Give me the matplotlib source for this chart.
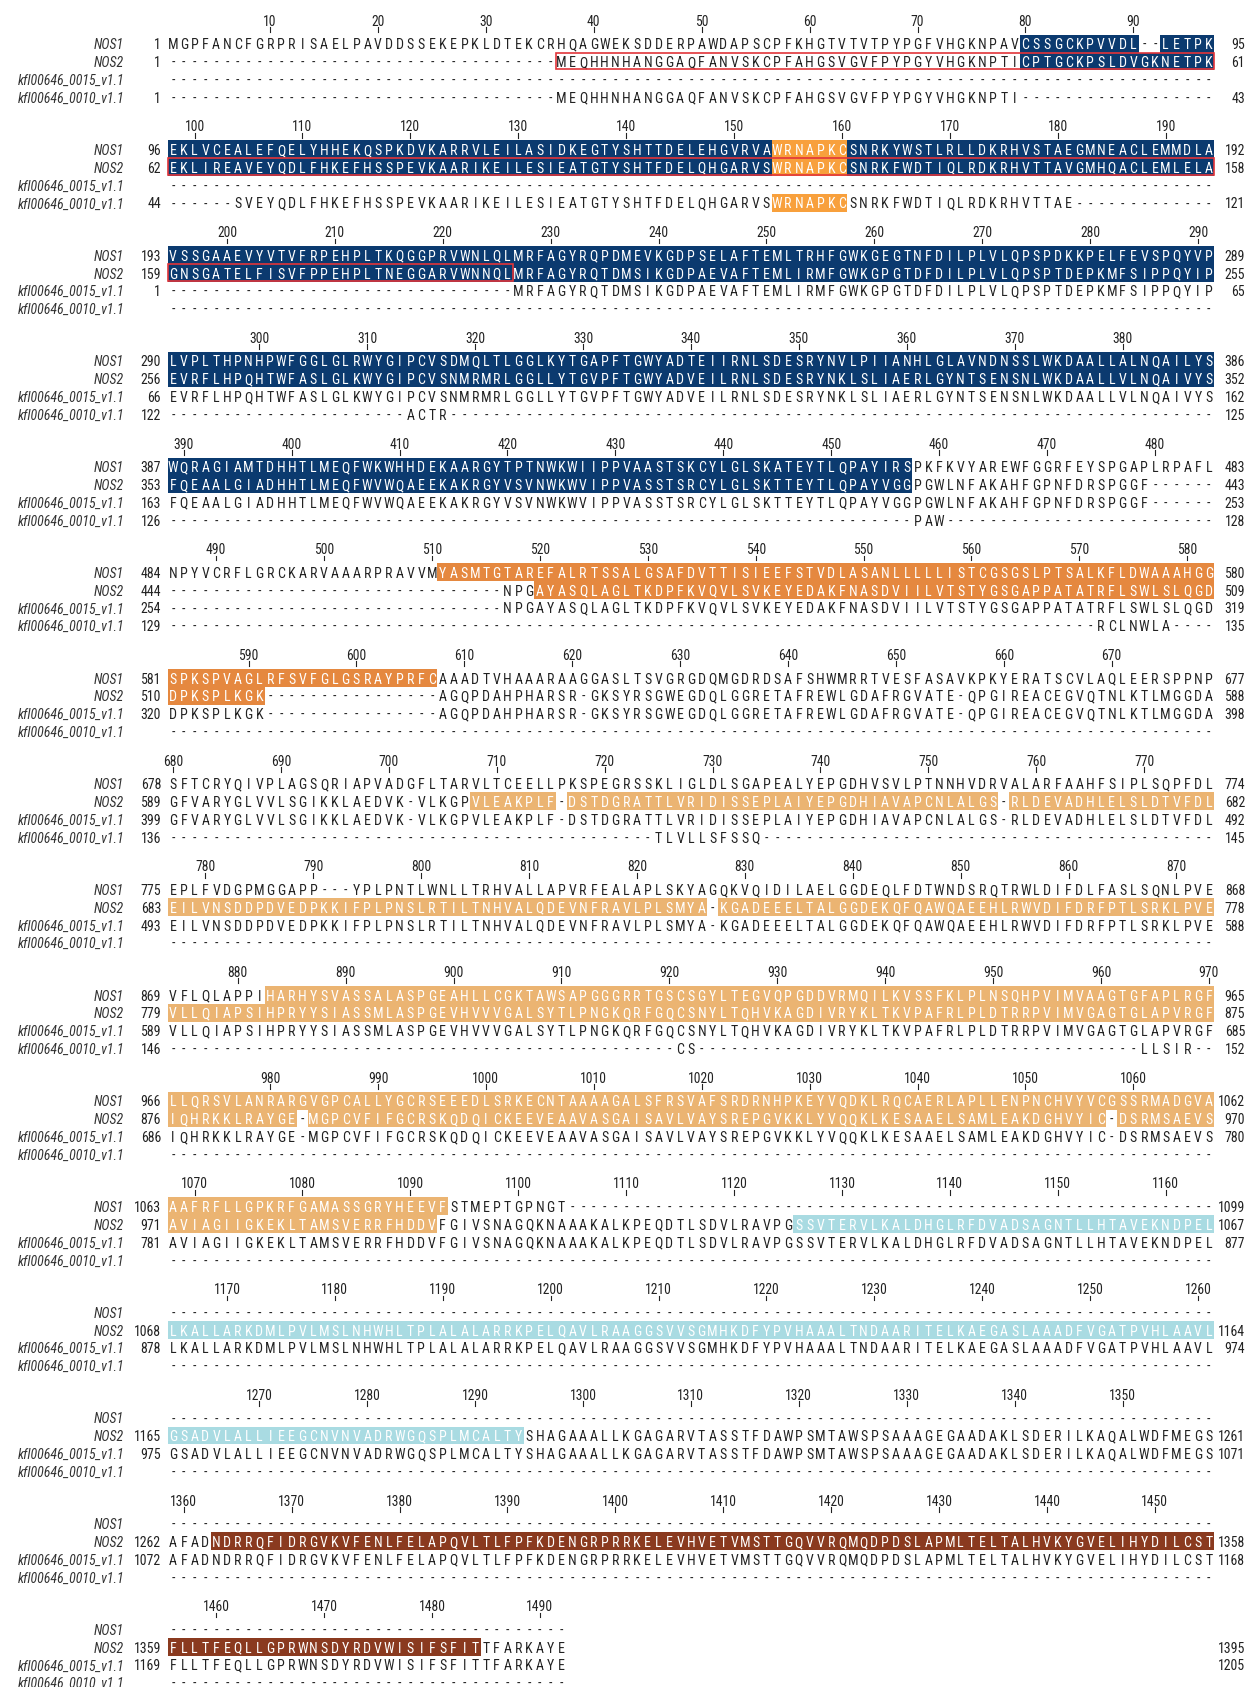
import matplotlib
matplotlib.use('Agg')
import matplotlib.pyplot as plt
from matplotlib import font_manager
from matplotlib.patches import Rectangle

# sequence names (row order)
names = ['NOS1', 'NOS2', 'kfl00646_0015_v1.1', 'kfl00646_0010_v1.1']

# aligned sequences, one string per block of 97 alignment columns ('-' = gap)
nos1 = [
    'MGPFANCFGRPRISAELPAVDDSSEKEPKLDTEKCRHQAGWEKSDDERPAWDAPSCPFKHGTVTVTPYPGFVHGKNPAVCSSGCKPVVDL--LETPK',
    'EKLVCEALEFQELYHHEKQSPKDVKARRVLEILASIDKEGTYSHTTDELEHGVRVAWRNAPKCSNRKYWSTLRLLDKRHVSTAEGMNEACLEMMDLA',
    'VSSGAAEVYVTVFRPEHPLTKQGGPRVWNLQLMRFAGYRQPDMEVKGDPSELAFTEMLTRHFGWKGEGTNFDILPLVLQPSPDKKPELFEVSPQYVP',
    'LVPLTHPNHPWFGGLGLRWYGIPCVSDMQLTLGGLKYTGAPFTGWYADTEIIRNLSDESRYNVLPIIANHLGLAVNDNSSLWKDAALLALNQAILYS',
    'WQRAGIAMTDHHTLMEQFWKWHHDEKAARGYTPTNWKWIIPPVAASTSKCYLGLSKATEYTLQPAYIRSPKFKVYAREWFGGRFEYSPGAPLRPAFL',
    'NPYVCRFLGRCKARVAAARPRAVVMYASMTGTAREFALRTSSALGSAFDVTTISIEEFSTVDLASANLLLLLISTCGSGSLPTSALKFLDWAAAHGG',
    'SPKSPVAGLRFSVFGLGSRAYPRFCAAADTVHAAARAAGGASLTSVGRGDQMGDRDSAFSHWMRRTVESFASAVKPKYERATSCVLAQLEERSPPNP',
    'SFTCRYQIVPLAGSQRIAPVADGFLTARVLTCEELLPKSPEGRSSKLIGLDLSGAPEALYEPGDHVSVLPTNNHVDRVALARFAAHFSIPLSQPFDL',
    'EPLFVDGPMGGAPP---YPLPNTLWNLLTRHVALLAPVRFEALAPLSKYAGQKVQIDILAELGGDEQLFDTWNDSRQTRWLDIFDLFASLSQNLPVE',
    'VFLQLAPPIHARHYSVASSALASPGEAHLLCGKTAWSAPGGGRRTGSCSGYLTEGVQPGDDVRMQILKVSSFKLPLNSQHPVIMVAAGTGFAPLRGF',
    'LLQRSVLANRARGVGPCALLYGCRSEEEDLSRKECNTAAAAGALSFRSVAFSRDRNHPKEYVQDKLRQCAERLAPLLENPNCHVYVCGSSRMADGVA',
    'AAFRFLLGPKRFGAMASSGRYHEEVFSTMEPTGPNGT' + '-' * 60,
    '-' * 97,
    '-' * 97,
    '-' * 97,
    '-' * 37,
]

nos2 = [
    '-' * 36 + 'MEQHHNHANGGAQFANVSKCPFAHGSVGVFPYPGYVHGKNPTICPTGCKPSLDVGKNETPK',
    'EKLIREAVEYQDLFHKEFHSSPEVKAARIKEILESIEATGTYSHTFDELQHGARVSWRNAPKCSNRKFWDTIQLRDKRHVTTAVGMHQACLEMLELA',
    'GNSGATELFISVFPPEHPLTNEGGARVWNNQLMRFAGYRQTDMSIKGDPAEVAFTEMLIRMFGWKGPGTDFDILPLVLQPSPTDEPKMFSIPPQYIP',
    'EVRFLHPQHTWFASLGLKWYGIPCVSNMRMRLGGLLYTGVPFTGWYADVEILRNLSDESRYNKLSLIAERLGYNTSENSNLWKDAALLVLNQAIVYS',
    'FQEAALGIADHHTLMEQFWVWQAEEKAKRGYVSVNWKWVIPPVASSTSRCYLGLSKTTEYTLQPAYVGGPGWLNFAKAHFGPNFDRSPGGF------',
    '-' * 31 + 'NPGAYASQLAGLTKDPFKVQVLSVKEYEDAKFNASDVIILVTSTYGSGAPPATATRFLSWLSLQGD',
    'DPKSPLKGK' + '-' * 16 + 'AGQPDAHPHARSR-GKSYRSGWEGDQLGGRETAFREWLGDAFRGVATE-QPGIREACEGVQTNLKTLMGGDA',
    'GFVARYGLVVLSGIKKLAEDVK-VLKGPVLEAKPLF-DSTDGRATTLVRIDISSEPLAIYEPGDHIAVAPCNLALGS-RLDEVADHLELSLDTVFDL',
    'EILVNSDDPDVEDPKKIFPLPNSLRTILTNHVALQDEVNFRAVLPLSMYA-KGADEEELTALGGDEKQFQAWQAEEHLRWVDIFDRFPTLSRKLPVE',
    'VLLQIAPSIHPRYYSIASSMLASPGEVHVVVGALSYTLPNGKQRFGQCSNYLTQHVKAGDIVRYKLTKVPAFRLPLDTRRPVIMVGAGTGLAPVRGF',
    'IQHRKKLRAYGE-MGPCVFIFGCRSKQDQICKEEVEAAVASGAISAVLVAYSREPGVKKLYVQQKLKESAAELSAMLEAKDGHVYIC-DSRMSAEVS',
    'AVIAGIIGKEKLTAMSVERRFHDDVFGIVSNAGQKNAAAKALKPEQDTLSDVLRAVPGSSVTERVLKALDHGLRFDVADSAGNTLLHTAVEKNDPEL',
    'LKALLARKDMLPVLMSLNHWHLTPLALALARRKPELQAVLRAAGGSVVSGMHKDFYPVHAAALTNDAARITELKAEGASLAAADFVGATPVHLAAVL',
    'GSADVLALLIEEGCNVNVADRWGQSPLMCALTYSHAGAAALLKGAGARVTASSTFDAWPSMTAWSPSAAAGEGAADAKLSDERILKAQALWDFMEGS',
    'AFADNDRRQFIDRGVKVFENLFELAPQVLTLFPFKDENGRPRRKELEVHVETVMSTTGQVVRQMQDPDSLAPMLTELTALHVKYGVELIHYDILCST',
    'FLLTFEQLLGPRWNSDYRDVWISIFSFITTFARKAYE',
]

# kfl00646_0015 matches NOS2 residue for residue from block 4 on
kfl15 = [
    '-' * 97,
    '-' * 97,
    '-' * 32 + 'MRFAGYRQTDMSIKGDPAEVAFTEMLIRMFGWKGPGTDFDILPLVLQPSPTDEPKMFSIPPQYIP',
] + nos2[3:]

kfl10 = [
    '-' * 36 + 'MEQHHNHANGGAQFANVSKCPFAHGSVGVFPYPGYVHGKNPTI' + '-' * 18,
    '-' * 6 + 'SVEYQDLFHKEFHSSPEVKAARIKEILESIEATGTYSHTFDELQHGARVSWRNAPKCSNRKFWDTIQLRDKRHVTTAE' + '-' * 13,
    '-' * 97,
    '-' * 22 + 'ACTR' + '-' * 71,
    '-' * 69 + 'PAW' + '-' * 25,
    '-' * 86 + 'RCLNWLA' + '-' * 4,
    '-' * 97,
    '-' * 45 + 'TLVLLSFSSQ' + '-' * 42,
    '-' * 97,
    '-' * 47 + 'CS' + '-' * 41 + 'LLSIR' + '--',
    '-' * 97,
    '-' * 97,
    '-' * 97,
    '-' * 97,
    '-' * 97,
    '-' * 37,
]

rows = [nos1, nos2, kfl15, kfl10]

# shaded domains: (row index, first alignment column, last alignment column, colour key)
regions = [
    (0, 80, 457, 'navy'), (0, 154, 160, 'orange'), (0, 511, 607, 'dark_orange'), (0, 883, 1093, 'tan'),
    (1, 80, 457, 'navy'), (1, 154, 160, 'orange'), (1, 520, 591, 'dark_orange'), (1, 708, 1092, 'tan'),
    (1, 1126, 1294, 'light_blue'), (1, 1363, 1484, 'brown'),
    (3, 154, 160, 'orange'),
]
colors = {
    'navy': '#0b3a6f',
    'orange': '#f8a03c',
    'dark_orange': '#e5883f',
    'tan': '#ebb472',
    'light_blue': '#a9dbe2',
    'brown': '#8a3a1f',
}
# red outline around the NOS2 N-terminal part
red_box = (1, 37, 226)


def has_font(name):
    try:
        font_manager.findfont(font_manager.FontProperties(family=name), fallback_to_default=False)
        return True
    except ValueError:
        return False


FONT, FS = 'Liberation Sans', 8.8
for cand in ['Roboto Condensed', 'Archivo Narrow']:
    if has_font(cand):
        FONT, FS = cand, 10
        break

BLOCK = 97
W, H = 1248, 1687
X0, DX = 173.0, 10.79
Y0, DY, DB = 44.3, 17.8, 105.7

fig = plt.figure(figsize=(W / 100, H / 100), dpi=100)
ax = fig.add_axes([0, 0, 1, 1])
ax.set_xlim(0, W)
ax.set_ylim(H, 0)
ax.axis('off')

txt = '#222222'
counts = [0] * len(rows)

for b in range(len(nos1)):
    yb = Y0 + b * DB
    ncol = len(rows[0][b])
    # ruler
    for j in range(ncol):
        c = b * BLOCK + j + 1
        if c % 10 == 0:
            x = X0 + j * DX
            ax.text(x, yb - 18.6, str(c), ha='center', va='baseline',
                    fontsize=FS - 0.2, family=FONT, color=txt)
            ax.plot([x, x], [yb - 17.2, yb - 12.4], color='#222222', lw=0.8)

    for r, name in enumerate(names):
        y = yb + r * DY
        seg = rows[r][b]
        ax.text(124, y + 5, name, ha='right', va='baseline', fontsize=FS,
                family=FONT, style='italic', color='#333333')
        nres = sum(ch != '-' for ch in seg)
        if nres:
            ax.text(161, y + 5, str(counts[r] + 1), ha='right', va='baseline',
                    fontsize=FS, family=FONT, color=txt)
            counts[r] += nres
            ax.text(1245, y + 5, str(counts[r]), ha='right', va='baseline',
                    fontsize=FS, family=FONT, color=txt)

        # colour of each cell
        cell = [None] * ncol
        for rr, c0, c1, key in regions:
            if rr != r:
                continue
            for j in range(ncol):
                c = b * BLOCK + j + 1
                if c0 <= c <= c1 and seg[j] != '-':
                    cell[j] = colors[key]
        j = 0
        while j < ncol:
            if cell[j] is None:
                j += 1
                continue
            k = j
            while k + 1 < ncol and cell[k + 1] == cell[j]:
                k += 1
            ax.add_patch(Rectangle((X0 + (j - 0.5) * DX, y - 9.6), (k - j + 1) * DX, DY,
                                   facecolor=cell[j], edgecolor='none', zorder=1))
            j = k + 1

        for j, ch in enumerate(seg):
            ax.text(X0 + j * DX, y + 5, ch, ha='center', va='baseline', fontsize=FS,
                    family=FONT, color='white' if cell[j] else txt, zorder=3)

    # red outline
    rr, c0, c1 = red_box
    lo = max(c0, b * BLOCK + 1)
    hi = min(c1, b * BLOCK + ncol)
    if lo <= hi:
        y = yb + rr * DY
        j0, j1 = lo - b * BLOCK - 1, hi - b * BLOCK - 1
        ax.add_patch(Rectangle((X0 + (j0 - 0.5) * DX, y - 9.6), (j1 - j0 + 1) * DX, DY - 1,
                               facecolor='none', edgecolor='#e2353a', lw=1.2, zorder=4))

fig.savefig('out.png', dpi=100)
